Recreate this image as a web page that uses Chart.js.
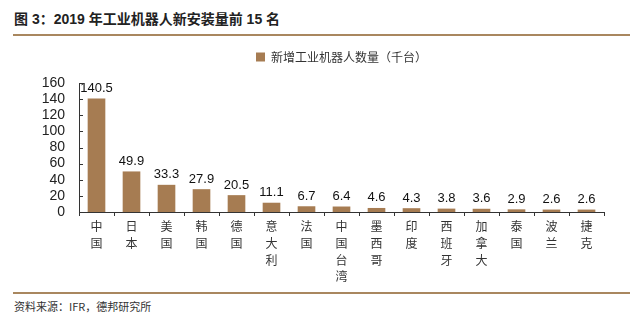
<!DOCTYPE html>
<html>
<head>
<meta charset="utf-8">
<script src="https://cdn.jsdelivr.net/npm/chart.js@4"></script>
<style>
  body { margin: 0; background: #fff; width: 640px; height: 318px; overflow: hidden; position: relative; font-family: "Noto Sans CJK SC", sans-serif; }
  #title { position: absolute; left: 14px; top: 8px; font-size: 14px; font-weight: bold; color: #222; font-family: "Liberation Sans", "Noto Sans CJK SC", sans-serif; }
  .rule { position: absolute; left: 13px; width: 617px; height: 2px; background: #a9875f; }
  #source { position: absolute; left: 14px; top: 298px; font-size: 11px; color: #333; }
  #wrap { position: absolute; left: 0; top: 35px; width: 640px; height: 257px; }
</style>
</head>
<body>
<div id="title">图 3：2019 年工业机器人新安装量前 15 名</div>
<div class="rule" style="top:34px"></div>
<div id="wrap"><canvas id="chart"></canvas></div>
<div class="rule" style="top:292px"></div>
<div id="source">资料来源：IFR，德邦研究所</div>
<script>
// categories (each character on its own line, as in the picture)
const countries = ["中国", "日本", "美国", "韩国", "德国", "意大利", "法国", "中国台湾", "墨西哥", "印度", "西班牙", "加拿大", "泰国", "波兰", "捷克"];
const installs = [140.5, 49.9, 33.3, 27.9, 20.5, 11.1, 6.7, 6.4, 4.6, 4.3, 3.8, 3.6, 2.9, 2.6, 2.6];
const yTicks = [0, 20, 40, 60, 80, 100, 120, 140, 160];

const barColor = "#a67c52";

// value labels on top of the bars
const valueLabels = {
  id: "valueLabels",
  afterDatasetsDraw(chart) {
    const ctx = chart.ctx;
    const meta = chart.getDatasetMeta(0);
    ctx.save();
    ctx.font = "13px 'Liberation Sans', Arial, sans-serif";
    ctx.fillStyle = "#111";
    ctx.textAlign = "center";
    ctx.textBaseline = "bottom";
    meta.data.forEach((bar, i) => {
      ctx.fillText(installs[i].toFixed(1), bar.x, bar.y - 4);
    });
    ctx.restore();
  }
};

// short inward ticks on the y axis
const yInnerTicks = {
  id: "yInnerTicks",
  afterDraw(chart) {
    const ctx = chart.ctx;
    const y = chart.scales.y;
    ctx.save();
    ctx.strokeStyle = "#333";
    ctx.lineWidth = 1;
    yTicks.forEach(v => {
      const py = Math.round(y.getPixelForValue(v)) + 0.5;
      ctx.beginPath();
      ctx.moveTo(y.right, py);
      ctx.lineTo(y.right + 4, py);
      ctx.stroke();
    });
    ctx.restore();
  }
};

// extra room under the legend
const legendGap = {
  id: "legendGap",
  beforeInit(chart) {
    const fit = chart.legend.fit;
    chart.legend.fit = function () {
      fit.bind(chart.legend)();
      this.height += 10;
    };
  }
};

new Chart(document.getElementById("chart"), {
  type: "bar",
  data: {
    labels: countries.map(c => c.split("")),
    datasets: [{
      label: "新增工业机器人数量（千台）",
      data: installs,
      backgroundColor: barColor,
      borderWidth: 0,
      barThickness: 17
    }]
  },
  options: {
    responsive: true,
    maintainAspectRatio: false,
    animation: false,
    layout: { padding: { left: 0, right: 36, top: 4, bottom: 0 } },
    plugins: {
      legend: {
        position: "top",
        fullSize: false,
        labels: {
          boxWidth: 9,
          boxHeight: 9,
          color: "#333",
          font: { size: 12, family: "'Noto Sans CJK SC', sans-serif" },
          padding: 12
        }
      },
      tooltip: { enabled: false }
    },
    scales: {
      x: {
        grid: { display: true, drawOnChartArea: false, offset: true, tickLength: 4, color: "#333" },
        border: { color: "#333", width: 1 },
        ticks: {
          color: "#333",
          maxRotation: 0,
          autoSkip: false,
          padding: 2,
          font: { size: 12, family: "'Noto Sans CJK SC', sans-serif", lineHeight: 1.4 }
        },
        afterFit(scale) { scale.height = 80; }
      },
      y: {
        min: 0,
        max: 160,
        afterBuildTicks(scale) { scale.ticks = yTicks.map(v => ({ value: v })); },
        grid: { display: false },
        border: { color: "#333", width: 1 },
        ticks: {
          color: "#222",
          padding: 6,
          autoSkip: false,
          font: { size: 14, family: "'Liberation Sans', Arial, sans-serif" }
        },
        afterFit(scale) { scale.width = 79; }
      }
    }
  },
  plugins: [valueLabels, yInnerTicks, legendGap]
});
</script>
</body>
</html>
